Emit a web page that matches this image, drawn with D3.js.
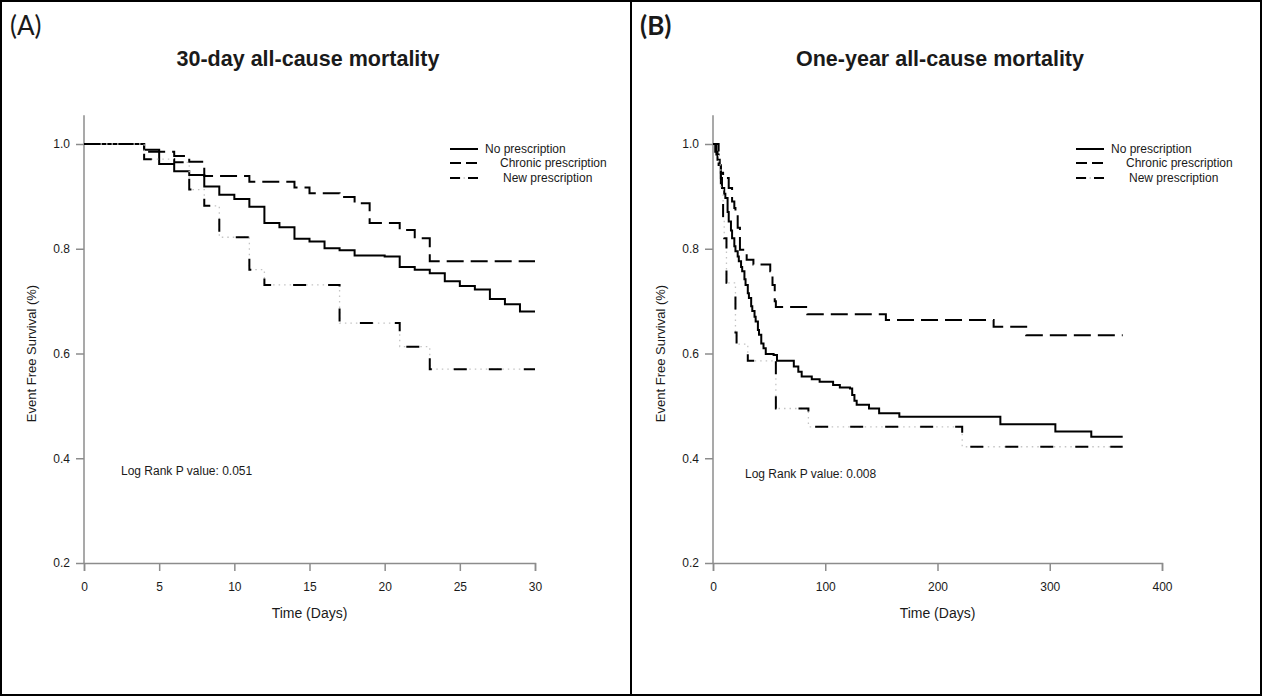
<!DOCTYPE html>
<html>
<head>
<meta charset="utf-8">
<script src="https://cdnjs.cloudflare.com/ajax/libs/d3/7.8.5/d3.min.js"></script>
<style>
  body { margin: 0; background: #fff; }
  text { font-family: "Liberation Sans", Arial, sans-serif; fill: #1a1a1a; }
  .axis path, .axis line { stroke: #8c8c8c; stroke-width: 1.5; }
  .axis text { font-size: 12px; fill: #1a1a1a; }
</style>
</head>
<body>
<div id="chart_box"></div>
<script>
// series names
var seriesNames = ["No prescription", "Chronic prescription", "New prescription"];

// tick labels
var survTicks = [0.2, 0.4, 0.6, 0.8, 1.0];
var dayTicks30 = [0, 5, 10, 15, 20, 25, 30];
var dayTicks365 = [0, 100, 200, 300, 400];

// (A) 30-day curves
var noRx30Time = [0, 4, 5, 6, 7, 8, 9, 10, 11, 12, 13, 14, 15, 16, 17, 18, 20, 21, 22, 23, 24, 25, 26, 27, 28, 29, 30];
var noRx30Surv = [1, 0.989, 0.962, 0.948, 0.941, 0.919, 0.903, 0.895, 0.880, 0.849, 0.841, 0.819, 0.814, 0.801, 0.797, 0.787, 0.785, 0.765, 0.760, 0.753, 0.738, 0.729, 0.722, 0.704, 0.694, 0.680, 0.680];
var chronic30Time = [0, 4, 6, 7, 8, 11, 14, 15, 17, 18, 19, 21, 22, 23, 30];
var chronic30Surv = [1, 0.985, 0.977, 0.966, 0.939, 0.928, 0.917, 0.906, 0.899, 0.887, 0.849, 0.836, 0.820, 0.776, 0.776];
var new30Time = [0, 4, 6, 7, 8, 9, 11, 12, 17, 21, 23, 30];
var new30Surv = [1, 0.971, 0.965, 0.913, 0.882, 0.822, 0.760, 0.731, 0.658, 0.613, 0.570, 0.570];

// (B) one-year curves
var noRx365Time = [0, 2, 4, 6, 7, 8, 10, 11, 13, 14, 16, 17, 19, 20, 22, 23, 25, 26, 28, 29, 31, 32, 34, 35, 37, 38, 40, 41, 43, 45, 47, 54, 57, 72, 76, 79, 88, 95, 107, 113, 122, 124, 126, 128, 139, 148, 166, 256, 305, 337, 365];
var noRx365Surv = [1, 0.985, 0.970, 0.960, 0.935, 0.916, 0.905, 0.897, 0.870, 0.852, 0.835, 0.820, 0.805, 0.795, 0.785, 0.776, 0.765, 0.757, 0.742, 0.731, 0.715, 0.706, 0.690, 0.681, 0.670, 0.661, 0.645, 0.636, 0.619, 0.610, 0.599, 0.597, 0.586, 0.575, 0.565, 0.556, 0.551, 0.546, 0.540, 0.535, 0.533, 0.521, 0.510, 0.502, 0.495, 0.486, 0.479, 0.465, 0.451, 0.441, 0.441];
var chronic365Time = [0, 3, 5, 7, 9, 14, 17, 19, 20, 22, 24, 30, 36, 51, 53, 55, 56, 84, 154, 250, 279, 365];
var chronic365Surv = [1, 0.980, 0.960, 0.945, 0.935, 0.916, 0.890, 0.878, 0.866, 0.840, 0.798, 0.779, 0.770, 0.757, 0.731, 0.700, 0.689, 0.675, 0.664, 0.651, 0.635, 0.635];
var new365Time = [0, 5, 7, 9, 10, 12, 20, 21, 31, 56, 85, 222, 365];
var new365Surv = [1, 0.960, 0.916, 0.860, 0.820, 0.735, 0.640, 0.618, 0.586, 0.495, 0.460, 0.422, 0.422];

var width = 1262, height = 696;

var chart = d3.select("#chart_box").append("svg")
    .attr("width", width)
    .attr("height", height);

// outer frame and the divider between the two panels
chart.append("rect")
    .attr("x", 1).attr("y", 1)
    .attr("width", width - 2).attr("height", height - 2)
    .attr("fill", "none").attr("stroke", "#000").attr("stroke-width", 2);
chart.append("line")
    .attr("x1", 631).attr("x2", 631).attr("y1", 1).attr("y2", height - 1)
    .attr("stroke", "#000").attr("stroke-width", 2);

function zip(t, s) {
    return t.map(function (d, i) { return [d, s[i]]; });
}

function draw(p) {
    var x = d3.scaleLinear().domain([0, p.xMax]).range([p.left, p.right]);
    var y = d3.scaleLinear().domain([0.2, 1.0]).range([563, 144]);

    var g = chart.append("g");

    // panel letter and title
    g.append("text")
        .attr("x", p.letterX).attr("y", 35)
        .style("font-family", "Lato, 'Open Sans', sans-serif")
        .style("font-size", "26px")
        .style("font-weight", p.letterBold ? "bold" : "normal")
        .text(p.letter);
    g.append("text")
        .attr("x", p.titleX).attr("y", 66)
        .attr("text-anchor", "middle")
        .style("font-size", "21.5px")
        .style("font-weight", "bold")
        .text(p.title);

    // x axis
    g.append("g")
        .attr("class", "axis")
        .attr("transform", "translate(0,563)")
        .call(d3.axisBottom(x).tickValues(p.xTicks).tickSize(8).tickPadding(11).tickFormat(d3.format("d")));

    // y axis, line runs a little above 1.0
    var yAxis = g.append("g")
        .attr("class", "axis")
        .attr("transform", "translate(" + p.left + ",0)")
        .call(d3.axisLeft(y).tickValues(survTicks).tickSize(8).tickPadding(6).tickFormat(d3.format(".1f")));
    yAxis.select(".domain").attr("d", "M0," + y(0.2) + "V" + y(1.055));

    g.append("text")
        .attr("x", (p.left + p.right) / 2).attr("y", 618)
        .attr("text-anchor", "middle")
        .style("font-size", "14px")
        .text("Time (Days)");
    g.append("text")
        .attr("transform", "translate(" + (p.left - 48) + "," + y(0.6) + ") rotate(-90)")
        .attr("text-anchor", "middle")
        .style("font-size", "13px")
        .text("Event Free Survival (%)");

    var line = d3.line()
        .x(function (d) { return x(d[0]); })
        .y(function (d) { return y(d[1]); })
        .curve(d3.curveStepAfter);

    // no prescription: solid
    g.append("path")
        .datum(zip(p.noRxTime, p.noRxSurv))
        .attr("d", line)
        .attr("fill", "none").attr("stroke", "#000").attr("stroke-width", 2);
    // chronic: long dash
    g.append("path")
        .datum(zip(p.chronicTime, p.chronicSurv))
        .attr("d", line)
        .attr("fill", "none").attr("stroke", "#000").attr("stroke-width", 2)
        .attr("stroke-dasharray", "17,7");
    // new: dash with faint dots between
    g.append("path")
        .datum(zip(p.newTime, p.newSurv))
        .attr("d", line)
        .attr("fill", "none").attr("stroke", "#c4c4c4").attr("stroke-width", 1.3)
        .attr("stroke-dasharray", "1.5,4");
    g.append("path")
        .datum(zip(p.newTime, p.newSurv))
        .attr("d", line)
        .attr("fill", "none").attr("stroke", "#000").attr("stroke-width", 2)
        .attr("stroke-dasharray", "13,22");

    // legend
    var lx = p.left + p.legendDx;
    var ly = [149, 163, 178];
    var tx = [lx + 35, lx + 50, lx + 53];
    g.append("line").attr("x1", lx).attr("x2", lx + 28).attr("y1", ly[0]).attr("y2", ly[0])
        .attr("stroke", "#000").attr("stroke-width", 2);
    g.append("line").attr("x1", lx).attr("x2", lx + 28).attr("y1", ly[1]).attr("y2", ly[1])
        .attr("stroke", "#000").attr("stroke-width", 2).attr("stroke-dasharray", "11,5");
    g.append("line").attr("x1", lx).attr("x2", lx + 28).attr("y1", ly[2]).attr("y2", ly[2])
        .attr("stroke", "#c4c4c4").attr("stroke-width", 1.3).attr("stroke-dasharray", "1.5,3");
    g.append("line").attr("x1", lx).attr("x2", lx + 28).attr("y1", ly[2]).attr("y2", ly[2])
        .attr("stroke", "#000").attr("stroke-width", 2).attr("stroke-dasharray", "10,8");
    seriesNames.forEach(function (name, i) {
        g.append("text")
            .attr("x", tx[i]).attr("y", ly[i] + 4)
            .style("font-size", "12px")
            .text(name);
    });

    // log rank note
    g.append("text")
        .attr("x", p.left + p.noteDx).attr("y", p.noteY)
        .style("font-size", "12px")
        .text("Log Rank P value: " + p.pValue);
}

draw({
    letter: "(A)", letterX: 10, letterBold: false,
    title: "30-day all-cause mortality", titleX: 308,
    left: 84, right: 535, xMax: 30, xTicks: dayTicks30,
    noRxTime: noRx30Time, noRxSurv: noRx30Surv,
    chronicTime: chronic30Time, chronicSurv: chronic30Surv,
    newTime: new30Time, newSurv: new30Surv,
    legendDx: 366, noteDx: 37, noteY: 475, pValue: "0.051"
});

draw({
    letter: "(B)", letterX: 640, letterBold: true,
    title: "One-year all-cause mortality", titleX: 940,
    left: 713, right: 1162, xMax: 400, xTicks: dayTicks365,
    noRxTime: noRx365Time, noRxSurv: noRx365Surv,
    chronicTime: chronic365Time, chronicSurv: chronic365Surv,
    newTime: new365Time, newSurv: new365Surv,
    legendDx: 363, noteDx: 32, noteY: 478, pValue: "0.008"
});
</script>
</body>
</html>
